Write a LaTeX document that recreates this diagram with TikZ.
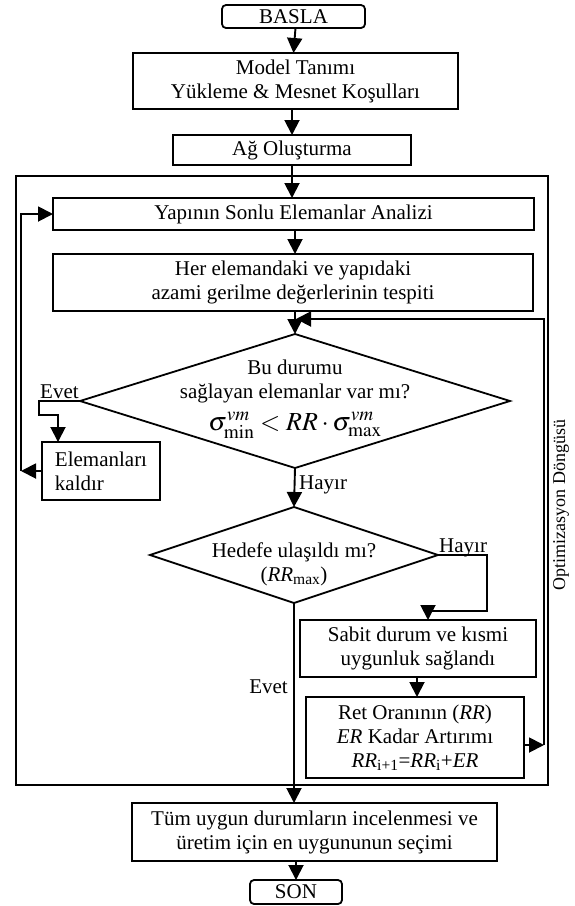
\documentclass[tikz,border=0pt]{standalone}
\usepackage{mathptmx}
\usepackage{fontspec}
\setmainfont{Liberation Serif}
\usetikzlibrary{shapes.geometric, arrows.meta}

\begin{document}
\begin{tikzpicture}[x=1pt, y=-1pt,
        font=\fontsize{21}{24}\selectfont,
        box/.style={draw, line width=1.8pt, inner sep=0pt, outer sep=0pt, align=center},
        term/.style={box, rounded corners=4pt},
        dia/.style={draw, diamond, line width=1.8pt, inner sep=0pt, outer sep=0pt},
        arr/.style={-{Triangle[length=15pt, width=15pt]}, line width=1.9pt},
        frame/.style={draw, line width=2.8pt}
    ]
        \useasboundingbox (0,0) rectangle (574,906);
        % outer loop frame
        \draw[frame] (16,176) rectangle (548,785);
        \node[font=\fontsize{18}{20}\selectfont, rotate=90] (loop) at (561,505) {Optimizasyon Döngüsü};

        \node[term, minimum width=143pt, minimum height=23pt] (basla) at (293.5,16.5) {BASLA};
        \node[box, minimum width=325pt, minimum height=56pt] (model) at (295.5,81) {Model Tanımı\\Yükleme \& Mesnet Koşulları};
        \node[box, minimum width=238pt, minimum height=30pt] (ag) at (292,150) {Ağ Oluşturma};
        \node[box, minimum width=481pt, minimum height=32pt] (yapi) at (293.5,214) {Yapının Sonlu Elemanlar Analizi};
        \node[box, minimum width=480pt, minimum height=57pt] (her) at (293,282.5) {Her elemandaki ve yapıdaki\\azami gerilme değerlerinin tespiti};

        % decisions
        \node[dia, minimum width=430pt, minimum height=134pt] (d1) at (295,401) {};
        \node[align=center] (d1txt) at (295,399) {Bu durumu\\sağlayan elemanlar var mı?\\[8pt]{\fontsize{26}{28}\selectfont$\sigma^{vm}_{\min} < RR\cdot\sigma^{vm}_{\max}$}};
        \node[dia, minimum width=288pt, minimum height=96pt] (d2) at (294,555) {};
        \node[align=center] (d2txt) at (294,564) {Hedefe ulaşıldı mı?\\(\textit{RR}\textsubscript{max})};

        \node[box, align=left, minimum width=118pt, minimum height=58pt] (elem) at (101,471) {Elemanları\\kaldır};
        \node[box, minimum width=236pt, minimum height=57pt] (sabit) at (418,648.5) {Sabit durum ve kısmi\\uygunluk sağlandı};
        \node[box, minimum width=218pt, minimum height=81pt] (ret) at (415,737.5) {Ret Oranının (\textit{RR})\\\textit{ER} Kadar Artırımı\\\textit{RR}\textsubscript{i+1}=\textit{RR}\textsubscript{i}+\textit{ER}};
        \node[box, minimum width=365pt, minimum height=58pt] (tum) at (314.5,832) {Tüm uygun durumların incelenmesi ve\\üretim için en uygununun seçimi};
        \node[term, minimum width=92pt, minimum height=24pt] (son) at (296,892) {SON};

        % labels
        \node[anchor=base west, inner sep=0pt] (evet1) at (40,398) {Evet};
        \node[anchor=base west, inner sep=0pt] (hayir1) at (299,489) {Hayır};
        \node[anchor=base west, inner sep=0pt] (hayir2) at (439,552) {Hayır};
        \node[anchor=base east, inner sep=0pt] (evet2) at (288,693) {Evet};

        \coordinate (lp) at (21,471);
        \coordinate (rp) at (544,745);
        \coordinate (fb) at (296,319);

        \draw[arr] (basla.south -| model.north) -- (model.north -| basla.south);
        \draw[arr] (model.south -| ag.north) -- (ag.north);
        \draw[arr] (ag.south) -- (yapi.north -| ag.south);
        \draw[arr] (yapi.south -| d1.north) -- (her.north -| d1.north);
        \draw[arr] (her.south -| d1.north) -- (d1.north);
        \draw[arr] (d1.west) -- ++(-41,0) -- ++(0,14) -| ([xshift=16pt]elem.north west);
        \draw[arr] (elem.west) -- (lp);
        \draw[arr] (lp) |- (yapi.west);
        \draw[arr] (d1.south) -- (d2.north);
        \draw[arr] (d2.east) -- ++(49,0) -- ++(0,56) -| ([xshift=10pt]sabit.north);
        \draw[arr] (sabit.south -| 417,0) -- (ret.north -| 417,0);
        \draw[arr] (ret.east |- rp) -- (rp);
        \draw[arr] (rp) |- (fb);
        \draw[arr] (d2.south) -- (tum.north -| d2.south);
        \draw[arr] (tum.south -| son.north) -- (son.north);
    \end{tikzpicture}
\end{document}
